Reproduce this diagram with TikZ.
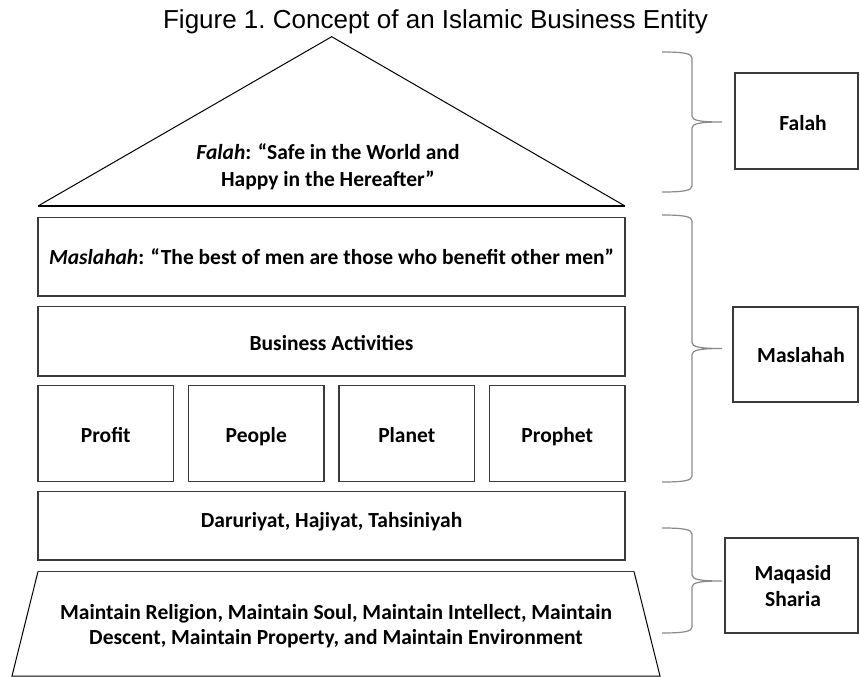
\documentclass[tikz,border=0pt]{standalone}
\usepackage{fontspec}
\setmainfont{Carlito}
\newfontfamily\titlefont{Liberation Sans}
\definecolor{boxgray}{HTML}{3A3A3A}
\definecolor{bracegray}{HTML}{8A8A8A}
\newcommand{\drawsidebrace}[4]{% #1 top y, #2 tip y, #3 bottom y, #4 tip name
  \draw[bracestyle] (662,#1) .. controls (684,#1) and (692,#1+1.5) .. (692,#1+6)
    -- (692,#2-6) .. controls (692,#2-1.5) and (700,#2) .. (722,#2)
    coordinate (#4)
    .. controls (700,#2) and (692,#2+1.5) .. (692,#2+6)
    -- (692,#3-6) .. controls (692,#3-1.5) and (684,#3) .. (662,#3);}
\begin{document}
\begin{tikzpicture}[x=1pt,y=-1pt,
  txt/.style={font=\fontsize{21.5}{26}\selectfont\bfseries, align=center, inner sep=0pt},
  line/.style={txt, anchor=base},
  block/.style={draw=boxgray, line width=1.3pt, rectangle, inner sep=0pt},
  roofline/.style={draw=black, line width=1pt, line join=miter},
  bracestyle/.style={draw=bracegray, line width=1.2pt},
  tag/.style={draw=boxgray, line width=1.2pt, rectangle, inner sep=0pt}]
\useasboundingbox (0,0) rectangle (860,677);

% title
\node[anchor=base, inner sep=0pt, font=\titlefont\fontsize{26}{30}\selectfont] (title) at (435.5,29)
  {\frenchspacing Figure 1. Concept of an Islamic Business Entity};

% roof
\coordinate (apex) at (331.7,36.7);
\coordinate (roofL) at (38,206);
\coordinate (roofR) at (625,206);
\draw[roofline] (roofL) -- (apex) -- (roofR);
\draw[black, line width=1.5pt] (roofL) -- (roofR);
\node[txt, font=\fontsize{21.5}{27.5}\selectfont\bfseries] (falahtxt) at (328,167)
  {\textit{Falah}: “Safe in the World and\\Happy in the Hereafter”};

% storeys
\node[block, minimum width=587pt, minimum height=78.5pt] (masl) at (331.5,256.8) {};
\node[line] (masltxt) at (331.5,264.5)
  {\textit{Maslahah}: “The best of men are those who benefit other men”};

\node[block, minimum width=587pt, minimum height=69.3pt] (bus) at (331.5,341.3) {};
\node[line] (bustxt) at (331.5,350) {Business Activities};

\foreach \cx/\nm/\lbl in {105.75/p1/Profit, 256.25/p2/People, 406.75/p3/Planet, 557.25/p4/Prophet}{
  \node[block, minimum width=135.5pt, minimum height=96.4pt] (\nm) at (\cx,433.5) {};
  \node[line] (\nm txt) at (\cx,442) {\lbl};
}

\node[block, minimum width=587pt, minimum height=68.3pt] (dar) at (331.5,525.9) {};
\node[line] (dartxt) at (331.5,527.5) {Daruriyat, Hajiyat, Tahsiniyah};

% foundation
\draw[boxgray, line width=1.3pt] (38,571.5) -- (634,571.5);
\draw[black, line width=1pt] (634,571.5) -- (660,676) -- (12,676) -- (38,571.5);
\node[txt, font=\fontsize{21.5}{25}\selectfont\bfseries] (found) at (336,626)
  {Maintain Religion, Maintain Soul, Maintain Intellect, Maintain\\Descent, Maintain Property, and Maintain Environment};

% braces
\drawsidebrace{52}{122}{192}{tipA}
\drawsidebrace{215}{348.5}{482}{tipB}
\drawsidebrace{528}{581}{633}{tipC}

% side labels
\node[tag, minimum width=123pt, minimum height=96pt] (falahbox) at (796.5,121) {};
\node[line] (falahlbl) at (803,130) {Falah};
\node[tag, minimum width=125pt, minimum height=95pt] (maslbox) at (795.5,354.5) {};
\node[line] (masllbl) at (801,362) {Maslahah};
\node[tag, minimum width=133pt, minimum height=95pt] (maqbox) at (791.5,585.5) {};
\node[txt] (maqlbl) at (793,586) {Maqasid\\Sharia};
\end{tikzpicture}
\end{document}
